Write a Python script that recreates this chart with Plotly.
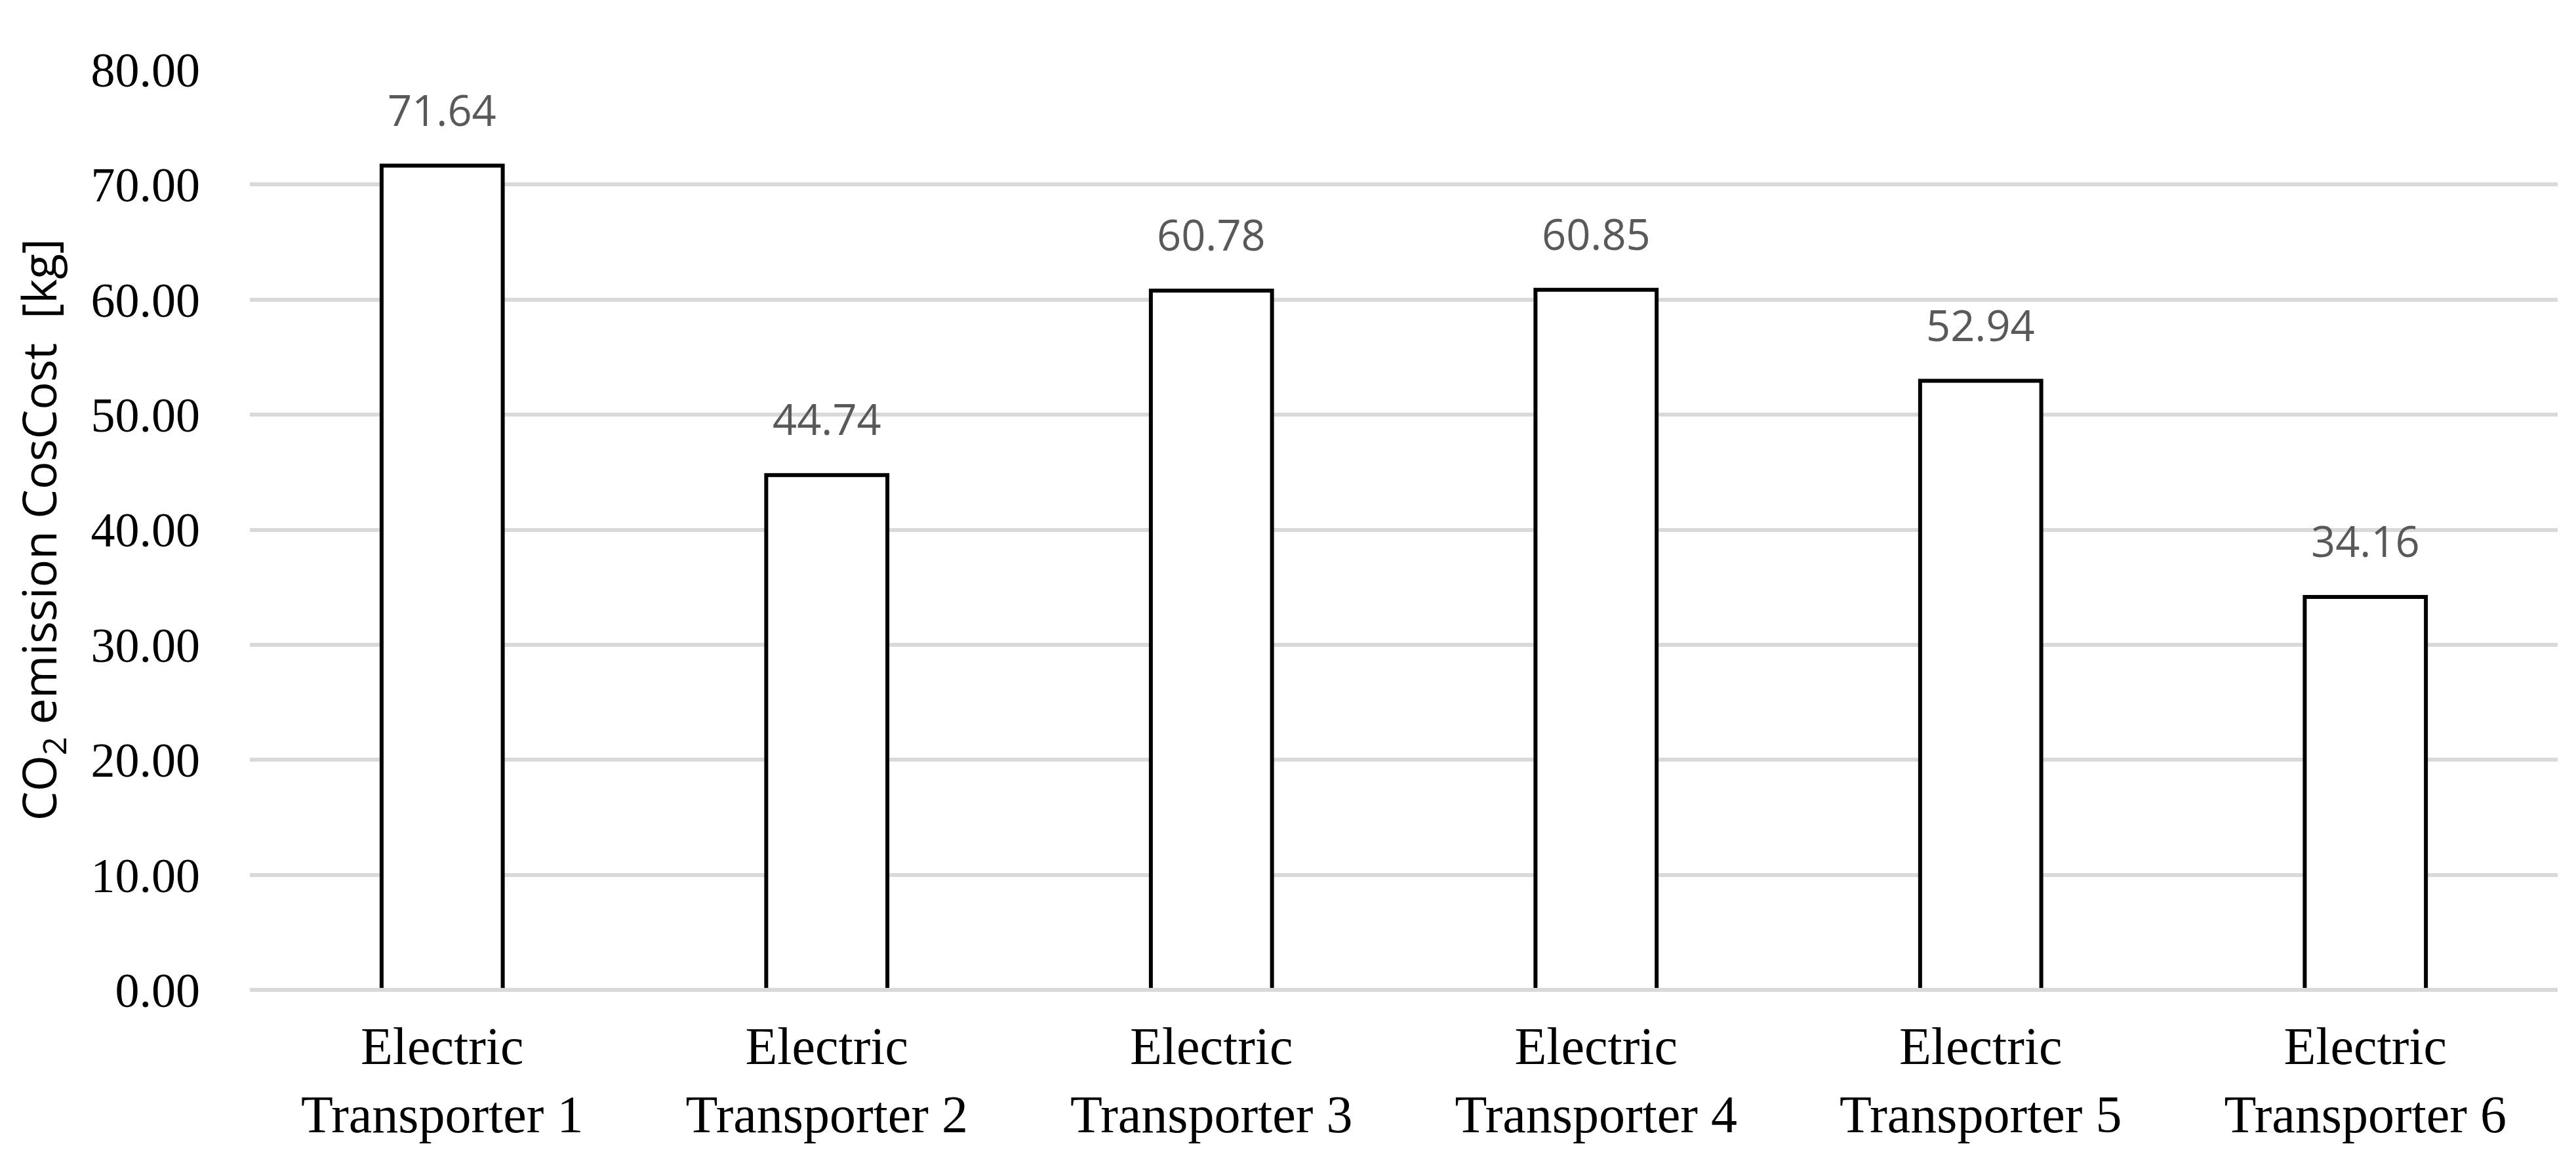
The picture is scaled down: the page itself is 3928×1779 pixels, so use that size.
import plotly.graph_objects as go

categories = ["Electric<br>Transporter 1", "Electric<br>Transporter 2", "Electric<br>Transporter 3",
              "Electric<br>Transporter 4", "Electric<br>Transporter 5", "Electric<br>Transporter 6"]
co2_cost = [71.64, 44.74, 60.78, 60.85, 52.94, 34.16]
y_ticks = [0, 10, 20, 30, 40, 50, 60, 70, 80]

GRID = "#d9d9d9"
SERIF = "Liberation Serif"
SANS = "Open Sans"

fig = go.Figure(go.Bar(
    x=categories, y=co2_cost,
    marker=dict(color="white", line=dict(color="black", width=6)),
    hoverinfo="skip",
))

# value labels sit well above each bar, as in the source chart
for cat, val in zip(categories, co2_cost):
    fig.add_annotation(x=cat, y=val, text=f"{val:.2f}", showarrow=False,
                       yanchor="bottom", yshift=40,
                       font=dict(family=SANS, size=65, color="#595959"))

fig.update_layout(
    width=3928, height=1779,
    paper_bgcolor="white", plot_bgcolor="white",
    margin=dict(l=373, r=36, t=98, b=278, autoexpand=False),
    bargap=0.685, showlegend=False,
)
fig.update_xaxes(tickfont=dict(family=SERIF, size=80, color="black"),
                 showgrid=False, showline=False, ticks="", ticklabelstandoff=32)
fig.update_yaxes(range=[0, 80], tickvals=y_ticks, tickformat=".2f",
                 tickfont=dict(family=SERIF, size=74, color="black"),
                 gridcolor=GRID, gridwidth=6, showline=False, ticks="",
                 zeroline=True, zerolinecolor=GRID, zerolinewidth=6,
                 ticklabelstandoff=75,
                 title=dict(text="CO<sub>2</sub> emission CosCost&nbsp; [kg]",
                            font=dict(family=SANS, size=71, color="black"),
                            standoff=28))
try:
    fig.update_yaxes(zerolinelayer="above traces")
except ValueError:
    pass

fig.write_html("out.html")
